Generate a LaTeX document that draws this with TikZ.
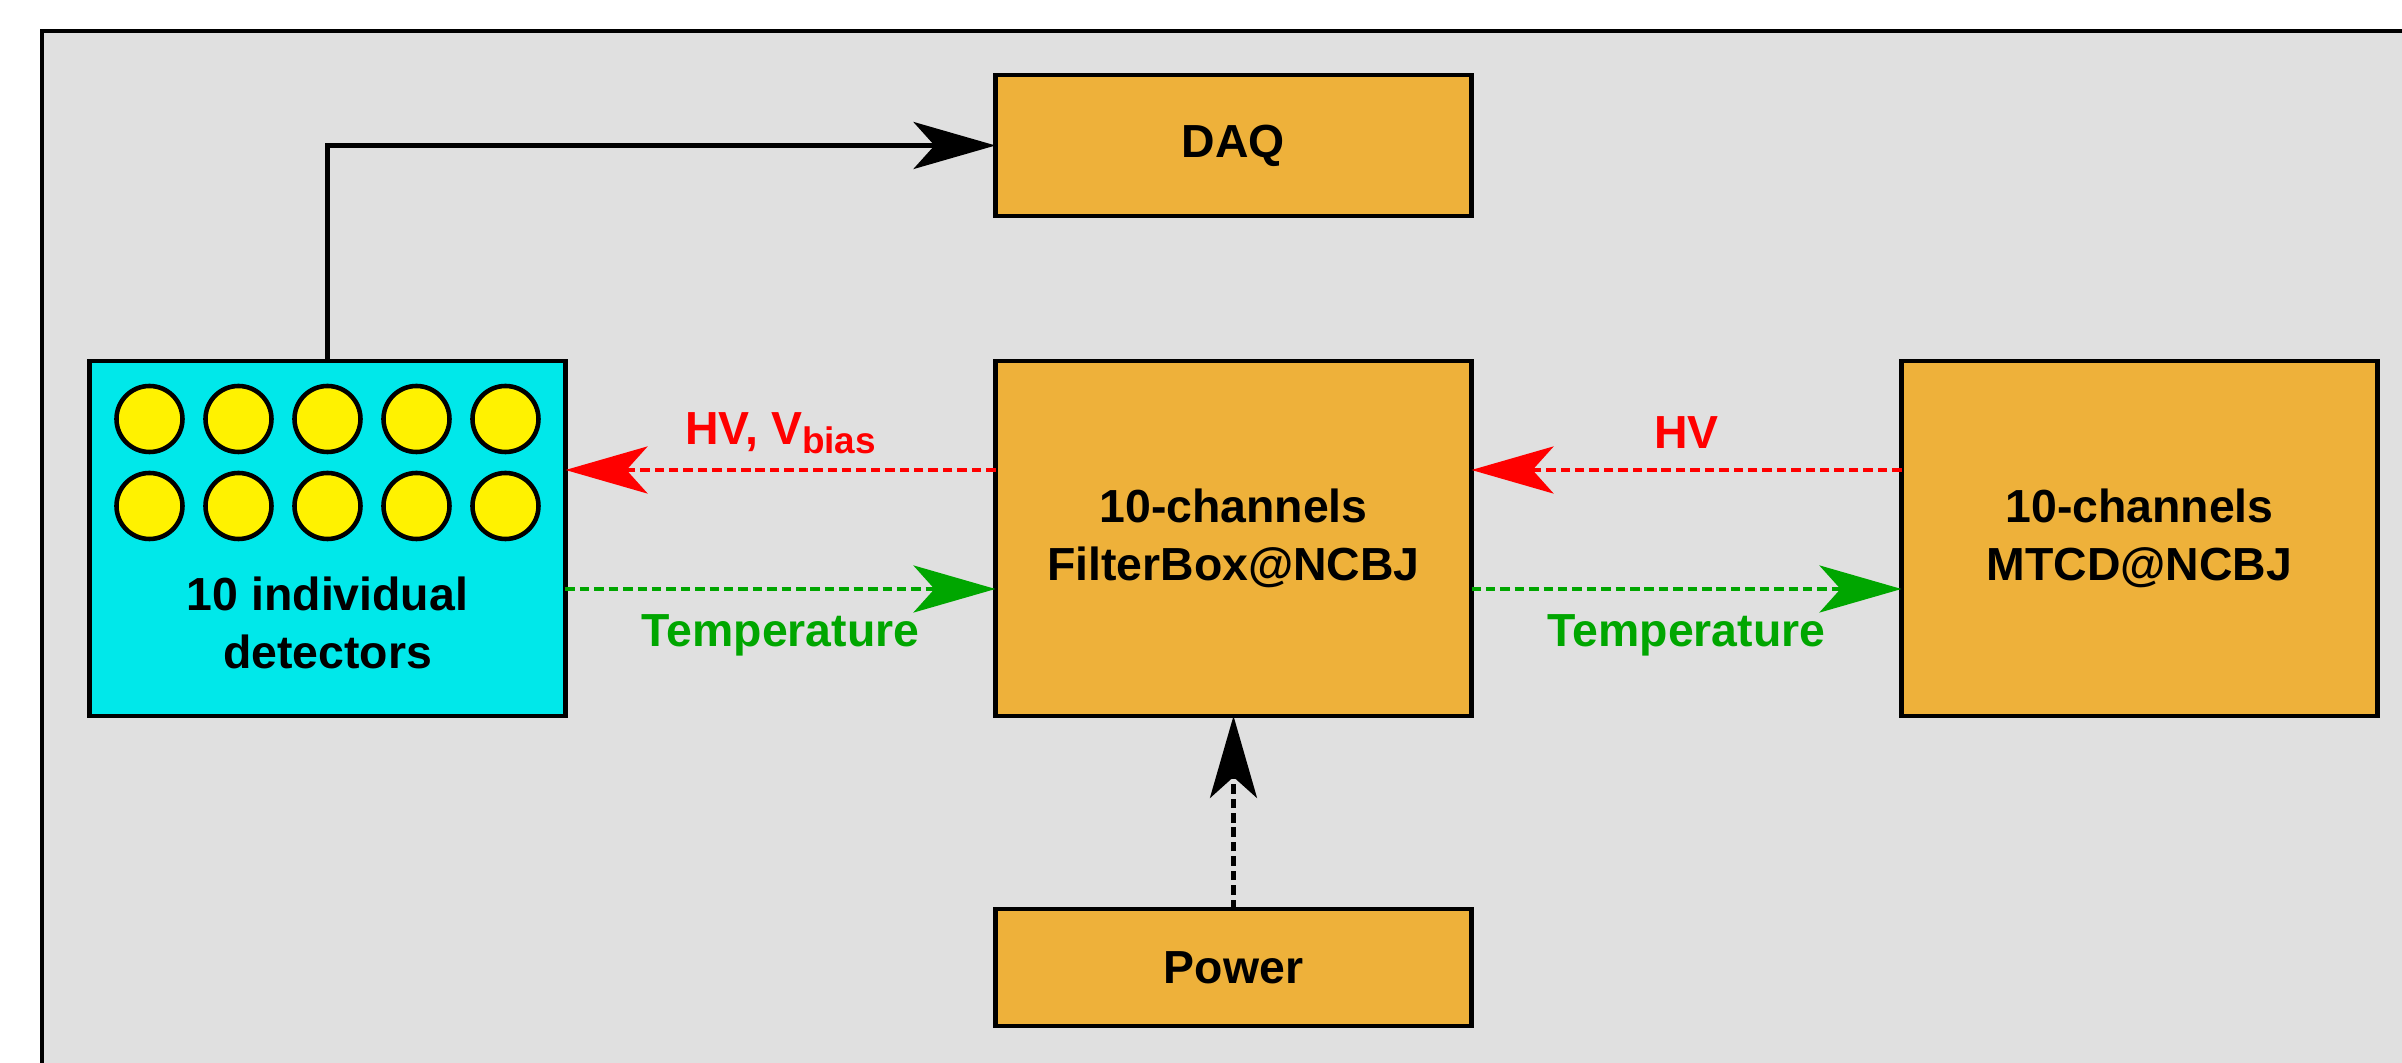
\documentclass[tikz,border=0pt]{standalone}
\usepackage{fontspec}
\setmainfont{Liberation Sans}
\usetikzlibrary{arrows.meta,positioning}
\definecolor{bggray}{RGB}{224,224,224}
\definecolor{boxorange}{RGB}{238,177,58}
\definecolor{detcyan}{RGB}{0,232,234}
\definecolor{tgreen}{RGB}{0,166,0}
\newcommand{\vbias}{V\raisebox{-2.3pt}{\fontsize{10.5}{12}\selectfont bias}}

\begin{document}
\begin{tikzpicture}[font=\fontsize{13.2}{16.5}\selectfont\bfseries,
  >={Stealth[length=8.2mm,width=4.7mm,inset=2.1mm]},
  line width=1.3pt,node distance=4.3cm,
  box/.style={draw,fill=boxorange,minimum width=4.76cm,minimum height=3.55cm,
              align=center,outer sep=0pt,inner sep=2pt},
  cell/.style={draw,circle,fill=yellow,minimum size=6.6mm,inner sep=0pt},
  sig/.style={->,dash pattern=on 2.7pt off 1.4pt}]
\useasboundingbox (-12.335,5.385) rectangle (11.685,-5.245);
\clip (-12.335,5.385) rectangle (11.685,-5.245);
\draw[fill=bggray,line width=1.4pt] (-11.915,5.075) rectangle (12.5,-6);
\node[box] (fbox) {10-channels\\FilterBox@NCBJ};
\node[box,fill=detcyan,left=of fbox] (det) {};
\node[box,right=of fbox] (mtcd) {10-channels\\MTCD@NCBJ};
\node[box,minimum height=1.41cm,above=1.45cm of fbox] (daq) {DAQ};
\node[box,minimum height=1.17cm,below=1.93cm of fbox] (pwr) {Power};
% detector cells
\foreach \i in {0,...,4} {
  \node[cell] (up\i) at ([xshift={(\i-2)*0.89cm},yshift=11.95mm]det.center) {};
  \node[cell] (lo\i) at ([xshift={(\i-2)*0.89cm},yshift=3.25mm]det.center) {};
}
\node[align=center] (dettxt) at ([yshift=-8.4mm]det.center)
  {10 individual\\detectors};
\draw[->] (det.north) |- (daq.west);
\draw[sig,red] ([yshift=6.85mm]fbox.west) --
  node[anchor=base,yshift=2.5mm]{HV, \vbias} ([yshift=6.85mm]det.east);
\draw[sig,red] ([yshift=6.85mm]mtcd.west) --
  node[anchor=base,yshift=2.1mm]{HV} ([yshift=6.85mm]fbox.east);
\draw[sig,tgreen] ([yshift=-5.05mm]det.east) --
  node[anchor=base,yshift=-5.8mm]{Temperature} ([yshift=-5.05mm]fbox.west);
\draw[sig,tgreen] ([yshift=-5.05mm]fbox.east) --
  node[anchor=base,yshift=-5.8mm]{Temperature} ([yshift=-5.05mm]mtcd.west);
\draw[sig] (pwr) -- (fbox);
\end{tikzpicture}
\end{document}
